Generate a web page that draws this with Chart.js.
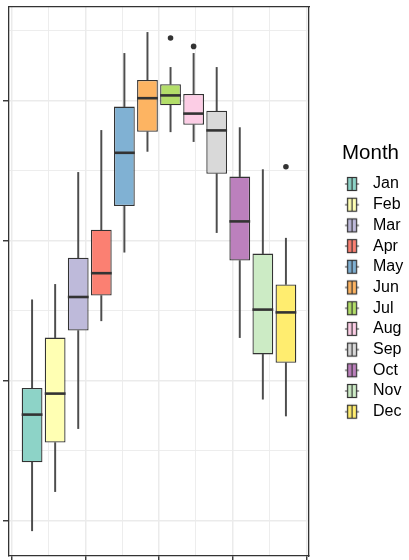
<!DOCTYPE html>
<html>
<head>
<meta charset="utf-8">
<script src="https://cdn.jsdelivr.net/npm/chart.js@4.4.1/dist/chart.umd.min.js"></script>
<style>
html,body{margin:0;padding:0;background:#ffffff;}
canvas{display:block;}
</style>
</head>
<body>
<canvas id="chart" width="409" height="560"></canvas>
<script>
// ---- data ----
const months = ['Jan','Feb','Mar','Apr','May','Jun','Jul','Aug','Sep','Oct','Nov','Dec'];
const lowerWhisker = [-0.7, 2.1, 6.6, 14.3, 19.2, 26.4, 27.8, 27.1, 20.6, 13.1, 8.7, 7.5];
const q1           = [4.2, 5.6, 13.6, 16.1, 22.5, 27.8, 29.7, 28.3, 24.8, 18.6, 11.9, 11.3];
const median       = [7.6, 9.1, 16.0, 17.7, 26.3, 30.2, 30.4, 29.1, 27.9, 21.4, 15.1, 14.9];
const q3           = [9.5, 13.1, 18.8, 20.8, 29.6, 31.5, 31.2, 30.5, 29.3, 24.6, 19.1, 16.9];
const upperWhisker = [15.8, 16.9, 24.9, 27.9, 33.4, 34.9, 32.4, 33.4, 32.4, 28.1, 25.1, 20.2];
const outlierMonths = ['Jul', 'Aug', 'Dec'];
const outlierValues = [34.5, 33.9, 25.3];
const legendTitle = 'Month';

// ---- style ----
const fills = ['#8DD3C7','#FFFFB3','#BEBADA','#FB8072','#80B1D3','#FDB462',
               '#B3DE69','#FCCDE5','#D9D9D9','#BC80BD','#CCEBC5','#FFED6F'];
const ink = '#333333';
const gridCol = '#EBEBEB';
Chart.defaults.font.family = "'Liberation Sans', Arial, Helvetica, sans-serif";

function isWhole(c, step){
  if (!c || !c.tick) return false;
  const r = c.tick.value / step;
  return Math.abs(r - Math.round(r)) < 1e-6;
}

function keyGlyph(fill){
  const c = document.createElement('canvas');
  c.width = 44; c.height = 22;
  const g = c.getContext('2d');
  const cx = 18.15, cy = 11;
  g.strokeStyle = ink; g.lineWidth = 1.2;
  g.beginPath();
  g.moveTo(cx - 7, cy); g.lineTo(cx - 4.5, cy);
  g.moveTo(cx + 4.5, cy); g.lineTo(cx + 7, cy);
  g.stroke();
  g.fillStyle = fill;
  g.fillRect(cx - 4.5, cy - 6.5, 9, 13);
  g.strokeRect(cx - 4.5, cy - 6.5, 9, 13);
  g.beginPath(); g.moveTo(cx, cy - 6.5); g.lineTo(cx, cy + 6.5); g.stroke();
  return c;
}
const glyphs = fills.map(keyGlyph);

const pos = m => months.indexOf(m) + 1;

new Chart(document.getElementById('chart'), {
  type: 'bar',
  data: {
    datasets: [
      {
        label: 'box',
        data: months.map((m, i) => ({x: pos(m), y: [q1[i], q3[i]]})),
        backgroundColor: fills, borderColor: ink, borderWidth: 1.3, borderSkipped: false,
        grouped: false, barPercentage: 0.9, categoryPercentage: 1, order: 2,
        xAxisID: 'x', yAxisID: 'y'
      },
      {
        label: 'upper whisker',
        data: months.map((m, i) => ({x: pos(m), y: [q3[i], upperWhisker[i]]})),
        backgroundColor: '#4d4d4d', borderWidth: 0, barThickness: 1.3, grouped: false, order: 3,
        xAxisID: 'x', yAxisID: 'y'
      },
      {
        label: 'lower whisker',
        data: months.map((m, i) => ({x: pos(m), y: [lowerWhisker[i], q1[i]]})),
        backgroundColor: '#4d4d4d', borderWidth: 0, barThickness: 1.3, grouped: false, order: 3,
        xAxisID: 'x', yAxisID: 'y'
      },
      {
        type: 'scatter', label: 'median',
        data: months.map((m, i) => ({x: pos(m), y: median[i]})),
        pointStyle: 'line', pointRadius: 10.4, borderColor: ink, borderWidth: 2.6, order: 1,
        xAxisID: 'x', yAxisID: 'y'
      },
      {
        type: 'scatter', label: 'outliers',
        data: outlierMonths.map((m, i) => ({x: pos(m), y: outlierValues[i]})),
        pointRadius: 2.8, backgroundColor: ink, borderWidth: 0, order: 0,
        xAxisID: 'x', yAxisID: 'y'
      }
    ]
  },
  options: {
    responsive: false,
    animation: false,
    devicePixelRatio: 1,
    events: [],
    layout: {autoPadding: false, padding: {left: 3, top: 7, right: 0, bottom: 0}},
    plugins: {
      tooltip: {enabled: false},
      legend: {
        position: 'right',
        maxWidth: 67,
        title: {display: true, text: legendTitle, position: 'start', color: '#000000',
                font: {size: 20.5}, padding: {top: 0.15, bottom: 3.95}},
        labels: {
          usePointStyle: true, pointStyleWidth: 18.3, padding: 4.7,
          color: '#1a1a1a', font: {size: 16},
          generateLabels: () => months.map((m, i) => ({
            text: m, fillStyle: fills[i], strokeStyle: ink, lineWidth: 0,
            pointStyle: glyphs[i], hidden: false, datasetIndex: 0, index: i
          }))
        }
      }
    },
    scales: {
      x: {type: 'linear', min: 0, max: 13, offset: false, display: false,
          afterFit: s => { s.height = 0; }},
      xg: {
        type: 'linear', position: 'bottom', min: -2.034, max: 2.034, offset: false,
        ticks: {display: false, stepSize: 0.5, includeBounds: false},
        grid: {
          color: gridCol, offset: false,
          lineWidth: c => isWhole(c, 1) ? 1.5 : 0.9,
          tickColor: c => isWhole(c, 1) ? ink : 'rgba(0,0,0,0)',
          tickWidth: 1.4, tickLength: 4, drawTicks: true
        },
        border: {display: true, color: ink, width: 1.3},
        afterFit: s => { s.height = 4; }
      },
      xt: {
        type: 'linear', position: 'top',
        ticks: {display: false},
        grid: {color: 'rgba(0,0,0,0)', drawTicks: false, tickLength: 0},
        border: {display: true, color: ink, width: 1.3},
        afterFit: s => { s.height = 0; }
      },
      y: {
        type: 'linear', position: 'left', min: -2.5, max: 36.714,
        ticks: {display: false, stepSize: 5, includeBounds: false},
        grid: {
          color: gridCol,
          lineWidth: c => isWhole(c, 10) ? 1.5 : 0.9,
          tickColor: c => isWhole(c, 10) ? ink : 'rgba(0,0,0,0)',
          tickWidth: 1.4, tickLength: 6, drawTicks: true
        },
        border: {display: true, color: ink, width: 1.3},
        afterFit: s => { s.width = 6; }
      },
      yr: {
        type: 'linear', position: 'right',
        ticks: {display: false},
        grid: {color: 'rgba(0,0,0,0)', drawTicks: true, tickLength: 33},
        border: {display: true, color: ink, width: 1.3},
        afterFit: s => { s.width = 33; }
      }
    }
  }
});
</script>
</body>
</html>
